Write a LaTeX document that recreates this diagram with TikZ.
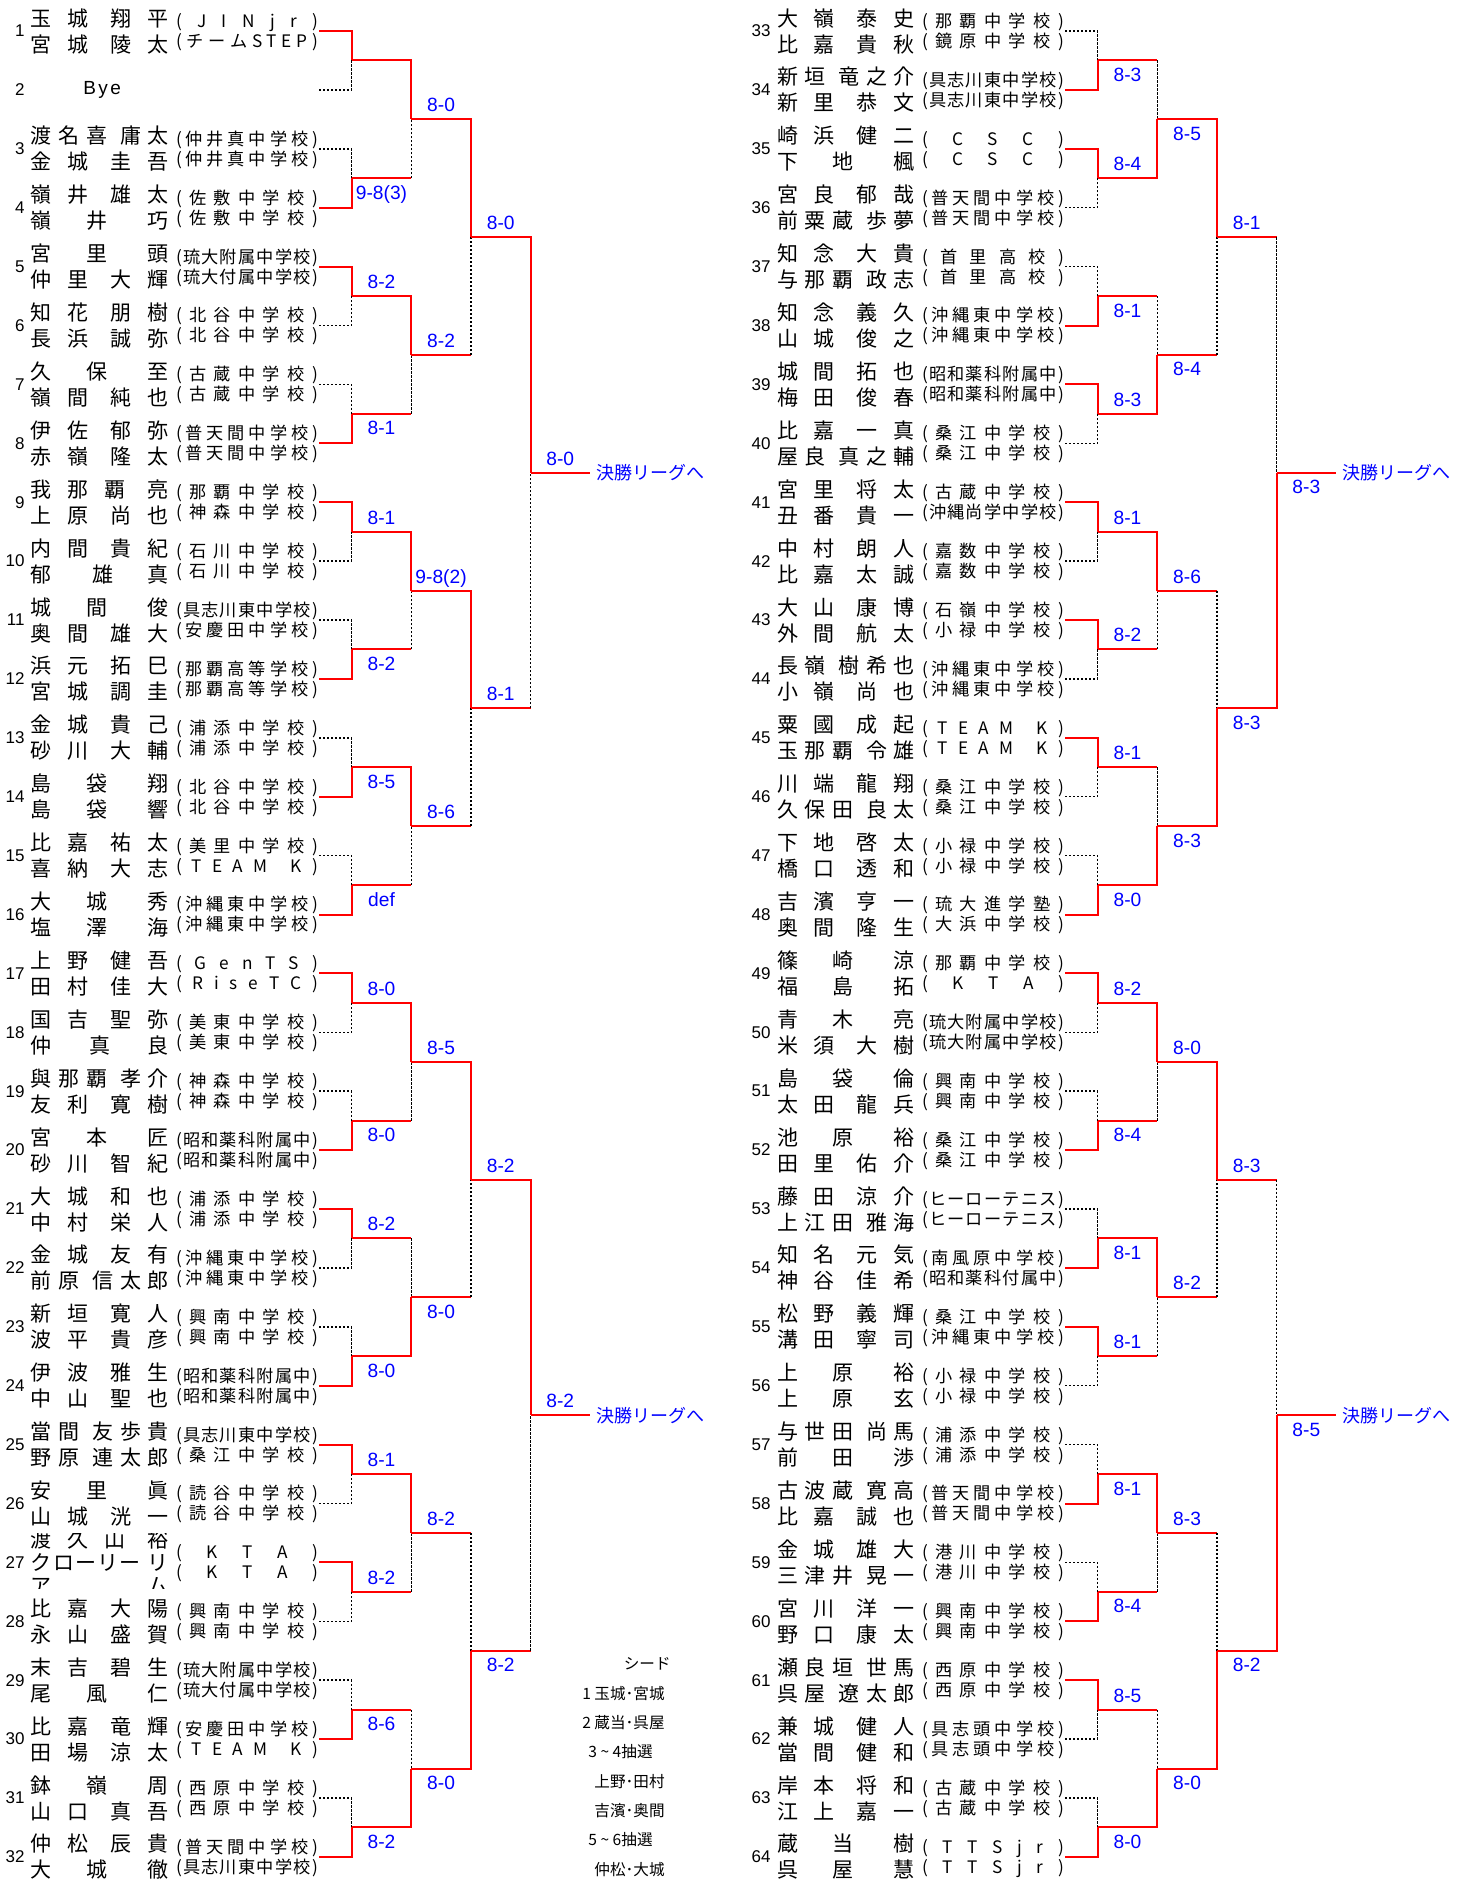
\documentclass[tikz,border=0pt]{standalone}
\usepackage{fontspec}
\setmainfont{Liberation Sans}
\newfontfamily\jp{Noto Sans CJK JP}
\usetikzlibrary{calc}

% spread the characters of a text evenly over a fixed width;
% a | marks the wider gap between family and given name
\def\spread#1{\spreadA#1\relax}
\def\spreadA#1{#1\spreadB}
\def\spreadB#1{\ifx\relax#1\else
  \ifx|#1\hspace{3pt}\else\hfill#1\fi\expandafter\spreadB\fi}
\newcommand\nm[1]{\makebox[69pt][s]{\spread{#1}}}
\newcommand\sch[1]{\makebox[71pt][s]{\spread{(#1)}}}

% one entry: number, player 1, school 1, player 2, school 2
\newcommand\entry[5]{%
  \pgfmathsetmacro\entx{(#1>32)*746}%
  \pgfmathsetmacro\enty{31+mod(#1-1,32)*58.9}%
  \node[num] (n#1) at (\entx+25,\enty) {#1};
  \node[player] (a#1) at (\entx+100,\enty-13) {\nm{#2}};
  \node[player] (b#1) at (\entx+100,\enty+13) {\nm{#4}};
  \node[school] (c#1) at (\entx+247,\enty-10) {\sch{#3}};
  \node[school] (d#1) at (\entx+247,\enty+10) {\sch{#5}};
  \coordinate (e#1) at (\entx+319,\enty);
}

% one match: round, first entry of the group, winner (t or b), score
\newcommand\bout[4]{%
  \pgfmathtruncatemacro\grphalf{2^(#1-1)}%
  \pgfmathtruncatemacro\lowgrp{#2+\grphalf}%
  \pgfmathtruncatemacro\prevrnd{#1-1}%
  \pgfmathsetmacro\boutx{(#2>32)*746+292.1+59.6*#1}%
  \pgfmathsetmacro\bouty{31+(mod(#2-1,32)+(2^#1-1)/2)*58.9}%
  \ifnum#1=1 \edef\topin{e#2}\edef\botin{e\lowgrp}%
  \else \edef\topin{r\prevrnd m#2}\edef\botin{r\prevrnd m\lowgrp}\fi
  \if t#3 \let\winin\topin \let\losin\botin
  \else \let\winin\botin \let\losin\topin \fi
  \coordinate (r#1m#2) at (\boutx,\bouty);
  \draw[won] (\winin) -| (r#1m#2);
  \ifnum#1=1 \draw[lost] (\losin) -| (r#1m#2);
  \else
    \draw[won] (\losin) -- (\losin -| r#1m#2);
    \draw[lost] (\losin -| r#1m#2) -- (r#1m#2);
  \fi
  \ifx\relax#4\relax\else
    \if t#3 \node[score] (s#1m#2) at (\boutx+29.8,\bouty-7.5) {#4};
    \else \node[score] (s#1m#2) at (\boutx+29.8,\bouty+21) {#4}; \fi
  \fi
}

\begin{document}
\begin{tikzpicture}[%
    x=0.5pt, y=-0.5pt,          % one unit is one pixel, rows run downwards
    ]
% -------------------------------------------------
% Styles for the texts and the bracket lines
\tikzset{
  num/.style={anchor=east, inner sep=0pt, font=\fontsize{8.5pt}{8.5pt}\selectfont},
  player/.style={inner sep=0pt, text height=8.7pt, text depth=0.7pt,
    font=\jp\fontsize{10.5pt}{10.5pt}\selectfont},
  school/.style={inner sep=0pt, text height=7pt, text depth=0.6pt,
    font=\jp\fontsize{8.6pt}{8.6pt}\selectfont},
  bye/.style={anchor=west, inner sep=0pt, font=\fontsize{9.5pt}{9.5pt}\selectfont},
  % connector line styles: winner and loser
  won/.style={draw=red, line width=1pt},
  lost/.style={draw=black, line width=0.75pt, dash pattern=on 1.2pt off 0.8pt},
  score/.style={anchor=base, inner sep=0pt, text=blue,
    font=\fontsize{9.6pt}{9.6pt}\selectfont},
  goal/.style={anchor=west, inner sep=2.5pt, text=blue,
    font=\jp\fontsize{9pt}{9pt}\selectfont},
  seed/.style={anchor=east, inner sep=0pt, font=\jp\fontsize{7.8pt}{7.8pt}\selectfont},
}
\useasboundingbox (0,0) rectangle (1464,1881);
% -------------------------------------------------
% Left half
\entry{1}{玉城|翔平}{JINjr}{宮城|陵太}{チームSTEP}
\node[num] (n2) at (25,89.9) {2};
\node[bye] (a2) at (83,89.9) {B\hspace{1.2pt}y\hspace{1.2pt}e};
\coordinate (e2) at (319,89.9);
\entry{3}{渡名喜|庸太}{仲井真中学校}{金城|圭吾}{仲井真中学校}
\entry{4}{嶺井|雄太}{佐敷中学校}{嶺井|巧}{佐敷中学校}
\entry{5}{宮里|頭}{琉大附属中学校}{仲里|大輝}{琉大付属中学校}
\entry{6}{知花|朋樹}{北谷中学校}{長浜|誠弥}{北谷中学校}
\entry{7}{久保|至}{古蔵中学校}{嶺間|純也}{古蔵中学校}
\entry{8}{伊佐|郁弥}{普天間中学校}{赤嶺|隆太}{普天間中学校}
\entry{9}{我那覇|亮}{那覇中学校}{上原|尚也}{神森中学校}
\entry{10}{内間|貴紀}{石川中学校}{郁|雄真}{石川中学校}
\entry{11}{城間|俊}{具志川東中学校}{奥間|雄大}{安慶田中学校}
\entry{12}{浜元|拓巳}{那覇高等学校}{宮城|調圭}{那覇高等学校}
\entry{13}{金城|貴己}{浦添中学校}{砂川|大輔}{浦添中学校}
\entry{14}{島袋|翔}{北谷中学校}{島袋|響}{北谷中学校}
\entry{15}{比嘉|祐太}{美里中学校}{喜納|大志}{TEAM~K}
\entry{16}{大城|秀}{沖縄東中学校}{塩澤|海}{沖縄東中学校}
\entry{17}{上野|健吾}{GenTS}{田村|佳大}{RiseTC}
\entry{18}{国吉|聖弥}{美東中学校}{仲真良}{美東中学校}
\entry{19}{與那覇|孝介}{神森中学校}{友利|寛樹}{神森中学校}
\entry{20}{宮本|匠}{昭和薬科附属中}{砂川|智紀}{昭和薬科附属中}
\entry{21}{大城|和也}{浦添中学校}{中村|栄人}{浦添中学校}
\entry{22}{金城|友有}{沖縄東中学校}{前原|信太郎}{沖縄東中学校}
\entry{23}{新垣|寛人}{興南中学校}{波平|貴彦}{興南中学校}
\entry{24}{伊波|雅生}{昭和薬科附属中}{中山|聖也}{昭和薬科附属中}
\entry{25}{當間|友歩貴}{具志川東中学校}{野原|連太郎}{桑江中学校}
\entry{26}{安里|眞}{読谷中学校}{山城|洸一}{読谷中学校}
% entry 27: the second name runs over two rows
\node[num] (n27) at (25,1562.4) {27};
\begin{scope}
  \clip (28,1533) rectangle (172,1588);
  \node[player] (a27) at (100,1539) {\nm{渡久山|裕}};
  \node[player] (b27) at (100,1562) {\nm{クローリー|リ}};
  \node[player] (f27) at (100,1585) {\nm{アム}};
\end{scope}
\node[school] (c27) at (247,1552.4) {\sch{KTA}};
\node[school] (d27) at (247,1572.4) {\sch{KTA}};
\coordinate (e27) at (319,1562.4);
\entry{28}{比嘉|大陽}{興南中学校}{永山|盛賀}{興南中学校}
\entry{29}{末吉|碧生}{琉大附属中学校}{尾風|仁}{琉大付属中学校}
\entry{30}{比嘉|竜輝}{安慶田中学校}{田場|涼太}{TEAM~K}
\entry{31}{鉢嶺|周}{西原中学校}{山口|真吾}{西原中学校}
\entry{32}{仲松|辰貴}{普天間中学校}{大城|徹}{具志川東中学校}
% -------------------------------------------------
% Right half
\entry{33}{大嶺|泰史}{那覇中学校}{比嘉|貴秋}{鏡原中学校}
\entry{34}{新垣|竜之介}{具志川東中学校}{新里|恭文}{具志川東中学校}
\entry{35}{崎浜|健二}{CSC}{下地|楓}{CSC}
\entry{36}{宮良|郁哉}{普天間中学校}{前粟蔵|歩夢}{普天間中学校}
\entry{37}{知念|大貴}{首里高校}{与那覇|政志}{首里高校}
\entry{38}{知念|義久}{沖縄東中学校}{山城|俊之}{沖縄東中学校}
\entry{39}{城間|拓也}{昭和薬科附属中}{梅田|俊春}{昭和薬科附属中}
\entry{40}{比嘉|一真}{桑江中学校}{屋良|真之輔}{桑江中学校}
\entry{41}{宮里|将太}{古蔵中学校}{丑番|貴一}{沖縄尚学中学校}
\entry{42}{中村|朗人}{嘉数中学校}{比嘉|太誠}{嘉数中学校}
\entry{43}{大山|康博}{石嶺中学校}{外間|航太}{小禄中学校}
\entry{44}{長嶺|樹希也}{沖縄東中学校}{小嶺|尚也}{沖縄東中学校}
\entry{45}{粟國|成起}{TEAM~K}{玉那覇|令雄}{TEAM~K}
\entry{46}{川端|龍翔}{桑江中学校}{久保田|良太}{桑江中学校}
\entry{47}{下地|啓太}{小禄中学校}{橋口|透和}{小禄中学校}
\entry{48}{吉濱|亨一}{琉大進学塾}{奥間|隆生}{大浜中学校}
\entry{49}{篠崎|涼}{那覇中学校}{福島|拓}{KTA}
\entry{50}{青木|亮}{琉大附属中学校}{米須|大樹}{琉大附属中学校}
\entry{51}{島袋|倫}{興南中学校}{太田|龍兵}{興南中学校}
\entry{52}{池原|裕}{桑江中学校}{田里|佑介}{桑江中学校}
\entry{53}{藤田|涼介}{ヒーローテニス}{上江田|雅海}{ヒーローテニス}
\entry{54}{知名|元気}{南風原中学校}{神谷|佳希}{昭和薬科付属中}
\entry{55}{松野|義輝}{桑江中学校}{溝田|寧司}{沖縄東中学校}
\entry{56}{上原|裕}{小禄中学校}{上原|玄}{小禄中学校}
\entry{57}{与世田|尚馬}{浦添中学校}{前田|渉}{浦添中学校}
\entry{58}{古波蔵|寛高}{普天間中学校}{比嘉|誠也}{普天間中学校}
\entry{59}{金城|雄大}{港川中学校}{三津井|晃一}{港川中学校}
\entry{60}{宮川|洋一}{興南中学校}{野口|康太}{興南中学校}
\entry{61}{瀬良垣|世馬}{西原中学校}{呉屋|遼太郎}{西原中学校}
\entry{62}{兼城|健人}{具志頭中学校}{當間|健和}{具志頭中学校}
\entry{63}{岸本|将和}{古蔵中学校}{江上|嘉一}{古蔵中学校}
\entry{64}{蔵当|樹}{TTSjr}{呉屋|慧}{TTSjr}
% -------------------------------------------------
% The bracket, round by round
\bout{1}{1}{t}{}
\foreach \k/\w/\res in {3/b/9-8(3),5/t/8-2,7/b/8-1,9/t/8-1,11/b/8-2,13/b/8-5,
    15/b/def,17/t/8-0,19/b/8-0,21/t/8-2,23/b/8-0,25/t/8-1,27/t/8-2,29/b/8-6,
    31/b/8-2,33/b/8-3,35/t/8-4,37/b/8-1,39/t/8-3,41/t/8-1,43/t/8-2,45/t/8-1,
    47/b/8-0,49/t/8-2,51/b/8-4,53/b/8-1,55/t/8-1,57/b/8-1,59/b/8-4,61/t/8-5,
    63/b/8-0}
  {\bout{1}{\k}{\w}{\res}}
\foreach \k/\w/\res in {1/t/8-0,5/t/8-2,9/t/9-8(2),13/t/8-6,17/t/8-5,21/b/8-0,
    25/t/8-2,29/b/8-0,33/b/8-5,37/b/8-4,41/t/8-6,45/b/8-3,49/t/8-0,53/t/8-2,
    57/t/8-3,61/b/8-0}
  {\bout{2}{\k}{\w}{\res}}
\foreach \k/\w/\res in {1/t/8-0,9/t/8-1,17/t/8-2,25/b/8-2,33/t/8-1,41/b/8-3,
    49/t/8-3,57/b/8-2}
  {\bout{3}{\k}{\w}{\res}}
\foreach \k/\w/\res in {1/t/8-0,17/t/8-2,33/b/8-3,49/b/8-5}
  {\bout{4}{\k}{\w}{\res}}
\foreach \k in {1,17,33,49}
  \draw[won] (r4m\k) -- ++(59.6,0) node[goal] (g\k) {決勝リーグへ};
% -------------------------------------------------
% Seeds
\node[seed] (sd0) at (671,1664) {シード};
\node[seed] (sd1) at (665,1693.5) {1 玉城･宮城};
\node[seed] (sd2) at (665,1723) {2 蔵当･呉屋};
\node[seed] (sd3) at (653,1752) {3 \textasciitilde{} 4抽選};
\node[seed] (sd4) at (665,1781.5) {上野･田村};
\node[seed] (sd5) at (665,1811) {吉濱･奥間};
\node[seed] (sd6) at (653,1840) {5 \textasciitilde{} 6抽選};
\node[seed] (sd7) at (665,1869.5) {仲松･大城};
% -------------------------------------------------
\end{tikzpicture}
\end{document}
